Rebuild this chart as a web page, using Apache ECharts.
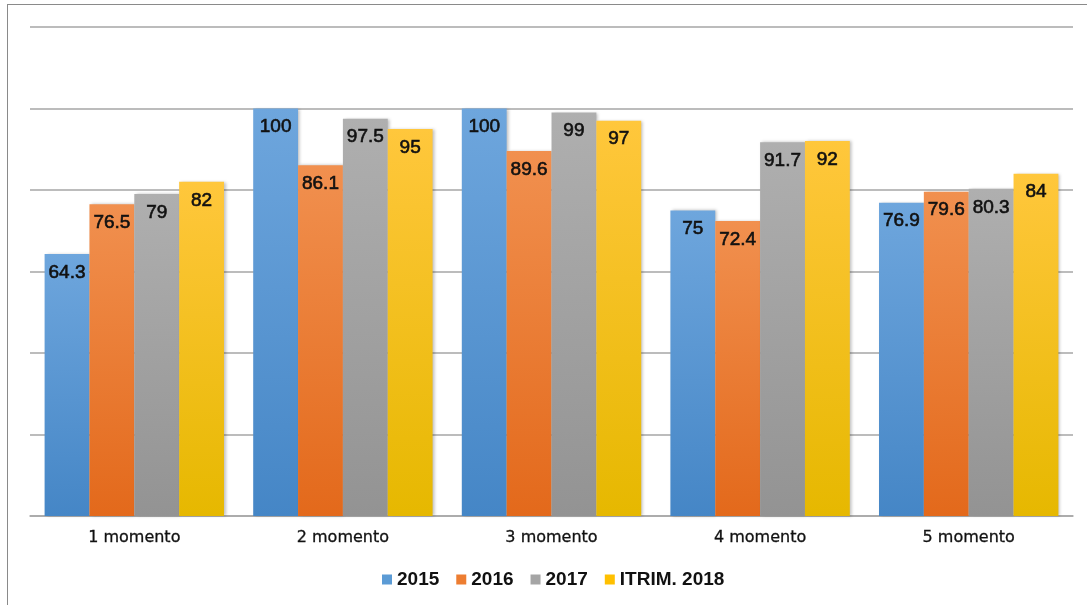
<!DOCTYPE html>
<html>
<head>
<meta charset="utf-8">
<script src="https://cdn.jsdelivr.net/npm/echarts@6/dist/echarts.min.js"></script>
<style>
  html, body { margin: 0; padding: 0; background: #fff; }
  #frame { position: absolute; left: 7px; top: 4px; width: 1100px; height: 620px; border-left: 1px solid #8a8a8a; border-top: 1px solid #8a8a8a; }
  #main { position: absolute; left: 0; top: 0; width: 1087px; height: 605px; }
</style>
</head>
<body>
<div id="frame"></div>
<div id="main"></div>
<script>
const categories = ["1 momento", "2 momento", "3 momento", "4 momento", "5 momento"];
const seriesNames = ["2015", "2016", "2017", "ITRIM. 2018"];
const values2015 = [64.3, 100, 100, 75, 76.9];
const values2016 = [76.5, 86.1, 89.6, 72.4, 79.6];
const values2017 = [79, 97.5, 99, 91.7, 80.3];
const values2018 = [82, 95, 97, 92, 84];

const topColors = ["#6ea6dd", "#f1904f", "#afafaf", "#ffc73c"];
const bottomColors = ["#4586c6", "#e3691b", "#939393", "#e6b800"];
const legendColors = ["#5b9bd5", "#ed7d31", "#a5a5a5", "#ffc000"];

const chart = echarts.init(document.getElementById("main"));

function grad(i) {
    return new echarts.graphic.LinearGradient(0, 0, 0, 1, [
        { offset: 0, color: topColors[i] },
        { offset: 1, color: bottomColors[i] }
    ]);
}

const allValues = [values2015, values2016, values2017, values2018];
const series = allValues.map((vals, i) => ({
    name: seriesNames[i],
    type: "bar",
    data: vals,
    barGap: "0%",
    barCategoryGap: "14%",
    itemStyle: {
        color: grad(i),
        shadowColor: "rgba(0,0,0,0.25)",
        shadowBlur: 3,
        shadowOffsetX: 2
    },
    label: {
        show: true,
        position: "insideTop",
        distance: 9,
        color: "#111",
        fontSize: 19,
        fontFamily: "Liberation Sans",
        textBorderColor: "#111",
        textBorderWidth: 0.6
    }
}));

chart.setOption({
    animation: false,
    color: legendColors,
    grid: { left: 30, right: 14, top: 27, bottom: 89 },
    legend: {
        bottom: 11,
        left: 377,
        icon: "rect",
        itemWidth: 10,
        itemHeight: 10,
        itemGap: 17,
        textStyle: { fontSize: 19, color: "#111", fontFamily: "Liberation Sans", fontWeight: "bold" },
        data: seriesNames.map((n, i) => ({ name: n, itemStyle: { color: legendColors[i] } }))
    },
    xAxis: {
        type: "category",
        data: categories,
        axisLine: { lineStyle: { color: "#a6a6a6", width: 1.5 } },
        axisTick: { show: false },
        axisLabel: {
            fontSize: 16, color: "#111", margin: 14, fontFamily: "DejaVu Sans",
            textBorderColor: "#111", textBorderWidth: 0.3
        }
    },
    yAxis: {
        type: "value",
        min: 0,
        max: 120,
        interval: 20,
        axisLabel: { show: false },
        axisLine: { show: false },
        axisTick: { show: false },
        splitLine: { lineStyle: { color: "#a6a6a6", width: 1.5 } }
    },
    series: series
});
</script>
</body>
</html>
